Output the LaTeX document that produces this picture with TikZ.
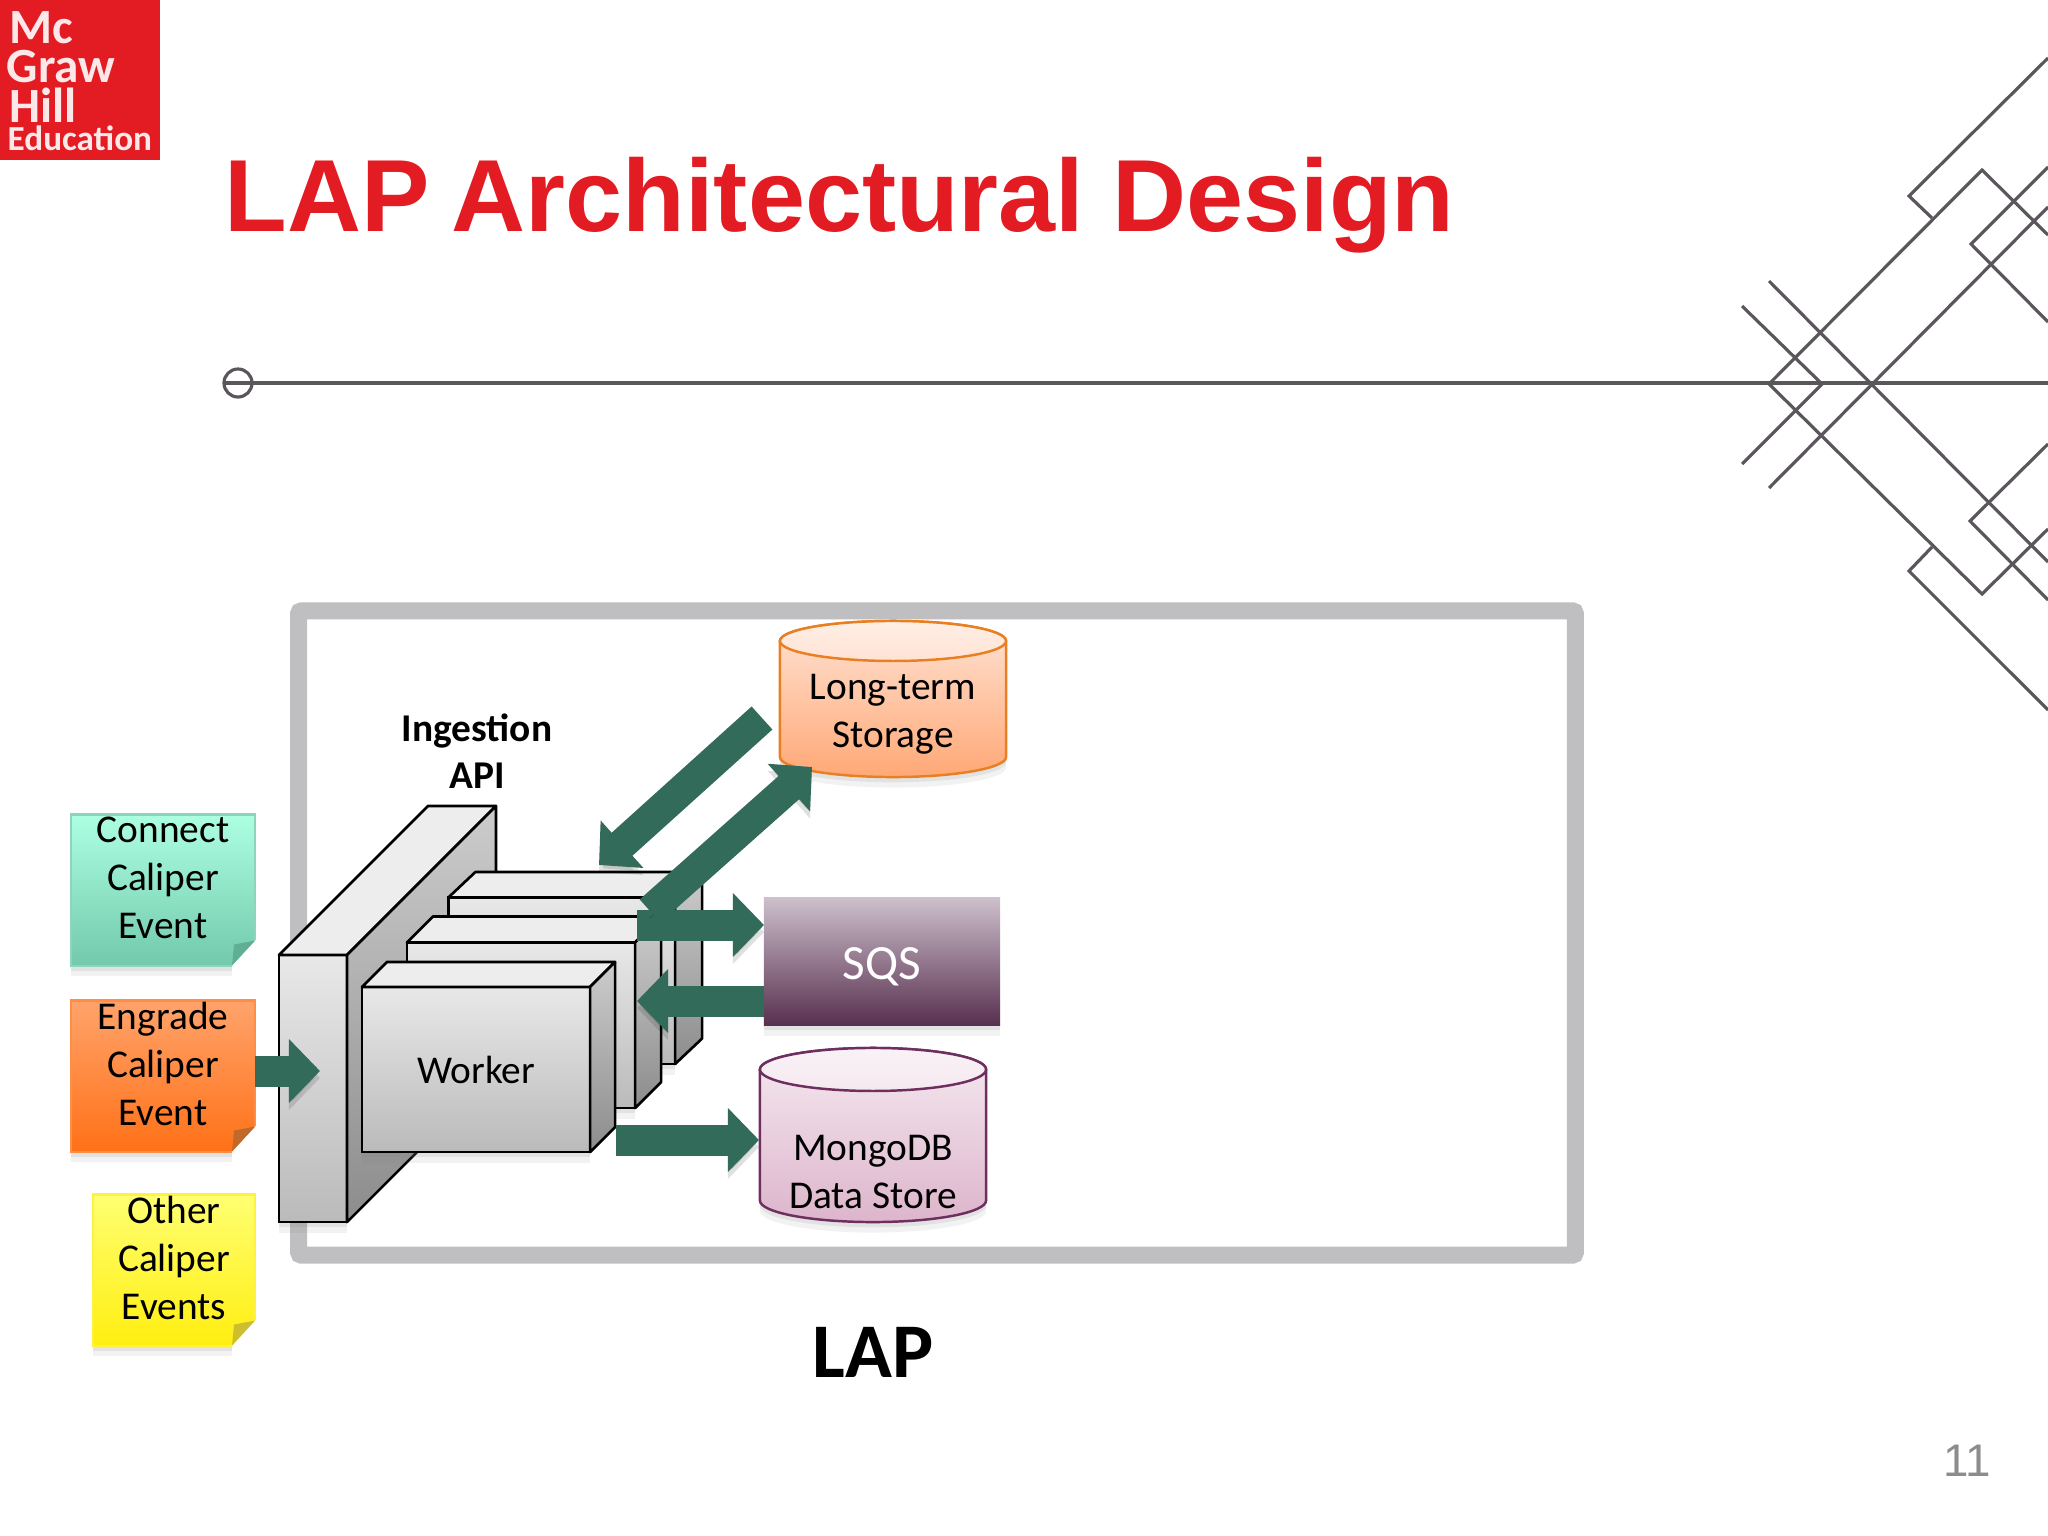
\documentclass[tikz,border=0pt]{standalone}
\usepackage{fontspec}
\setmainfont{Carlito}
\newfontfamily\titlefont{Liberation Sans}
\usetikzlibrary{arrows.meta,shadows}
\definecolor{mhred}{HTML}{E31B23}
\definecolor{framegray}{HTML}{BFBEC0}
\definecolor{linegray}{HTML}{5A565C}
\definecolor{arrowgreen}{HTML}{336B5A}
\definecolor{ltedge}{HTML}{E87F22}
\definecolor{lttop}{HTML}{FFE3D4}
\definecolor{ltbot}{HTML}{FFA876}
\definecolor{mongoedge}{HTML}{6E2F5F}
\definecolor{mongotop}{HTML}{F5E9F0}
\definecolor{mongobot}{HTML}{DDB5CC}
\definecolor{sqstop}{HTML}{CDBFCC}
\definecolor{sqsmid}{HTML}{8A6A87}
\definecolor{sqsbot}{HTML}{58304F}
\tikzset{
  softshadow/.style={drop shadow={opacity=.1,shadow xshift=0pt,shadow yshift=-3pt},drop shadow={opacity=.14,shadow xshift=0pt,shadow yshift=-1.5pt}},
  txt/.style={align=center,inner sep=0pt,font=\fontsize{11.2pt}{13.6pt}\selectfont},
  logotxt/.style={anchor=base west,inner sep=0pt,text=white!90!mhred,font=\bfseries\fontsize{14pt}{14pt}\selectfont},
  lattice/.style={draw=linegray,line width=0.9pt},
  notebox/.style={draw=#1!80!white,line width=0.6pt,outer sep=0pt,inner sep=0pt,minimum height=1.51cm,softshadow},
  cubefront/.style={draw=black,line width=0.75pt,outer sep=0pt,inner sep=0pt,top color=black!9,bottom color=black!27,softshadow},
  cubetop/.style={draw=black,line width=0.75pt,line join=round,fill=black!7},
  cubeside/.style={draw=black,line width=0.75pt,line join=round,top color=black!20,bottom color=black!45},
  blockarrow/.style={draw=arrowgreen,line width=.31cm,-{Triangle[length=.31cm,width=.62cm]},
    preaction={draw=black,opacity=.12,transform canvas={yshift=-2pt}}},
}
% side and top of a box in front of node #1
\newcommand{\cubefaces}[3]{
  \draw[cubetop](#1.north west)--++(#2,-#3)--([shift={(#2,-#3)}]#1.north east)--(#1.north east)--cycle;
  \draw[cubeside](#1.north east)--([shift={(#2,-#3)}]#1.north east)--([shift={(#2,-#3)}]#1.south east)--(#1.south east)--cycle;
}
% drum: #1 name, #2 half width, #3 cap height, #4 edge, #5 top, #6 bottom
\newcommand{\drum}[6]{
  \path[draw=#4,line width=0.7pt,top color=#5,bottom color=#6,softshadow]
    (#1.north west)--(#1.south west)arc[start angle=180,end angle=360,x radius=#2,y radius=#3]
    --(#1.north east)arc[start angle=0,end angle=180,x radius=#2,y radius=#3]--cycle;
  \draw[#4,line width=0.7pt,top color=#5!60!white,bottom color=#5](#1.north)ellipse[x radius=#2,y radius=#3];
}
\begin{document}
\begin{tikzpicture}[x=0.01cm,y=-0.01cm]
\useasboundingbox(0,0)rectangle(2048,1536);
% logo and title
\node[fill=mhred,minimum size=1.6cm,inner sep=0pt,outer sep=0pt](logo)at(80,80){};
\node[logotxt](mc)at(9,43){Mc};
\node[logotxt](graw)at(6,82){Graw};
\node[logotxt](hill)at(9,122){Hill};
\node[logotxt,font=\bfseries\fontsize{10pt}{10pt}\selectfont](edu)at(7,150){Education};
\node[anchor=base west,inner sep=0pt,text=mhred,font=\titlefont\bfseries\fontsize{29.15pt}{30pt}\selectfont](title)at(224,231){LAP\kern-.06em{} Architectural Design};
\node[circle,draw=linegray,line width=0.9pt,minimum size=.28cm,inner sep=0pt,outer sep=0pt](marker)at(238,383){};
\draw[lattice](marker.west)--(2048,383);
% lattice on the right
\draw[lattice](2048,58)--(1909,196)--(1932,218);
\draw[lattice](1769,384)--(1982,170)--(2048,235);
\draw[lattice](2048,167)--(1971,244)--(2048,322);
\draw[lattice](2048,207)--(1769,488);
\draw[lattice](1742,306)--(1822,384)--(1742,464);
\draw[lattice](1769,281)--(2048,562);
\draw[lattice](1769,384)--(1982,594)--(2048,529);
\draw[lattice](2048,444)--(1970,521)--(2048,600);
\draw[lattice](1932,547)--(1909,571)--(2048,710);
% frame
\node[draw=framegray,line width=.17cm,rounded corners=.03cm,minimum width=12.76cm,minimum height=6.44cm,outer sep=0pt](lap)at(937,933){};
\node[inner sep=0pt,font=\bfseries\fontsize{22pt}{24pt}\selectfont](laptxt)at(873,1352){LAP};
% notes
\foreach \name/\px/\py/\bw/\ctop/\cbot/\cfold/\txt in {
  connect/163/890/1.84cm/ADFFE2/72C9AB/5FAF95/{Connect\\Caliper\\Event},
  engrade/163/1076/1.84cm/FFA36B/FF7117/C0692A/{Engrade\\Caliper\\Event},
  other/174/1270/1.62cm/FFFF72/FFEE10/CDBE30/{Other\\Caliper\\Events}}{
  \definecolor{notetop}{HTML}{\ctop}
  \definecolor{notebot}{HTML}{\cbot}
  \definecolor{notefold}{HTML}{\cfold}
  \node[notebox=notebot,top color=notetop,bottom color=notebot,minimum width=\bw](\name)at(\px,\py){};
  \fill[white](\name.south east)++(2,-27)--++(-25,27)--++(0,14)--++(25,0)--cycle;
  \fill[notefold](\name.south east)++(-23,0)--++(23,-25)--++(-21,4)--cycle;
  \node[txt](\name txt)at(\px,\py-12){\txt};
}
% api and workers
\node[cubefront,minimum width=.68cm,minimum height=2.67cm](api)at(313,1088.5){};
\cubefaces{api}{149}{149}
\node[txt,font=\bfseries\fontsize{11.2pt}{13.4pt}\selectfont](apitxt)at(477,751){Ingestion\\API};
\foreach \name/\px/\py/\bw/\bh/\dx/\dy in {
  backworker/561.75/980.75/2.265cm/1.665cm/27/25.5,
  midworker/521/1025.3/2.28cm/1.655cm/26/26}{
  \node[cubefront,minimum width=\bw,minimum height=\bh](\name)at(\px,\py){};
  \cubefaces{\name}{\dx}{\dy}
}
\node[cubefront,minimum width=2.28cm,minimum height=1.65cm,txt](worker)at(476,1069.5){Worker};
\cubefaces{worker}{25}{25}
% stores
\node[minimum width=2.26cm,minimum height=1.16cm,inner sep=0pt,outer sep=0pt](longterm)at(893,699){};
\drum{longterm}{1.13cm}{.2cm}{ltedge}{lttop}{ltbot}
\node[txt](longtermtxt)at(893,714){Long-term\\Storage};
\node[minimum width=2.26cm,minimum height=1.31cm,inner sep=0pt,outer sep=0pt](mongo)at(873,1135){};
\drum{mongo}{1.13cm}{.215cm}{mongoedge}{mongotop}{mongobot}
\node[txt](mongotxt)at(873,1172){MongoDB\\Data Store};
\node[minimum width=2.36cm,minimum height=1.27cm,inner sep=0pt,outer sep=0pt,top color=sqstop,middle color=sqsmid,bottom color=sqsbot,text=white,
  softshadow,font=\fontsize{14pt}{16pt}\selectfont](sqs)at(882,961.5){\raisebox{-.175cm}[0pt][0pt]{SQS}};
% arrows
\coordinate(apiin)at(320,1071);
\coordinate(engradeout)at(255,1071);
\coordinate(sqsinA)at(637,925);
\coordinate(sqsinB)at(764,925);
\coordinate(sqsoutA)at(764,1001);
\coordinate(sqsoutB)at(637,1001);
\coordinate(mongoA)at(616,1140);
\coordinate(mongoB)at(759,1140);
\coordinate(ltA)at(762,718);
\coordinate(ltB)at(599,865);
\coordinate(ltC)at(650,911);
\coordinate(ltD)at(812,767);
\draw[blockarrow](engradeout)--(apiin);
\draw[blockarrow](sqsinA)--(sqsinB);
\draw[blockarrow](sqsoutA)--(sqsoutB);
\draw[blockarrow](mongoA)--(mongoB);
\draw[blockarrow](ltA)--(ltB);
\draw[blockarrow](ltC)--(ltD);
\node[inner sep=0pt,text=black!45,font=\titlefont\fontsize{13pt}{16pt}\selectfont](pageno)at(1967,1461){11};
\end{tikzpicture}
\end{document}
